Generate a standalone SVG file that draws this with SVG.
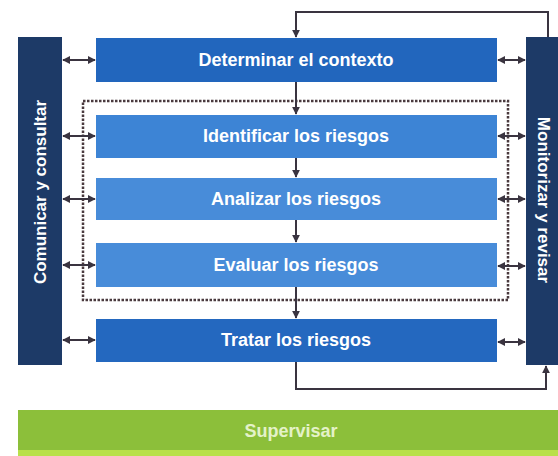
<svg xmlns="http://www.w3.org/2000/svg" width="558" height="456" viewBox="0 0 558 456">
<defs>
<style>
.lbl{font-family:"Liberation Sans",Arial,sans-serif;font-weight:bold;font-size:18px;fill:#ffffff;text-anchor:middle;dominant-baseline:central}
.vl{font-size:17px}
.side{fill:#1d3a67}
.conn{fill:none;stroke:#3a3440;stroke-width:2}
.dash{fill:none;stroke:#4a3a3e;stroke-width:2.5;stroke-dasharray:2.5 1.5}
</style>
<marker id="ah" viewBox="0 0 10 10" refX="9" refY="5" markerWidth="4" markerHeight="4" orient="auto-start-reverse">
<path d="M0,0 L10,5 L0,10 z" fill="#3a3440"/>
</marker>
</defs>
<rect width="558" height="456" fill="#ffffff"/>
<g id="comunicar">
<rect class="side" x="18" y="37" width="44" height="328"/>
<text class="lbl vl" transform="translate(40,192) rotate(-90)">Comunicar y consultar</text>
</g>
<g id="monitorizar">
<rect class="side" x="526" y="37" width="32" height="328"/>
<text class="lbl vl" transform="translate(543,200) rotate(90)">Monitorizar y revisar</text>
</g>
<rect class="dash" x="83" y="101" width="425" height="199"/>
<g id="determinar">
<rect x="96" y="38" width="401" height="44" fill="#2266bd"/>
<text class="lbl" x="296" y="60">Determinar el contexto</text>
</g>
<g id="identificar">
<rect x="96" y="115" width="401" height="43" fill="#3d84d5"/>
<text class="lbl" x="296" y="136">Identificar los riesgos</text>
</g>
<g id="analizar">
<rect x="96" y="178" width="401" height="42" fill="#488cd9"/>
<text class="lbl" x="296" y="199">Analizar los riesgos</text>
</g>
<g id="evaluar">
<rect x="96" y="243" width="401" height="44" fill="#488cd9"/>
<text class="lbl" x="296" y="265">Evaluar los riesgos</text>
</g>
<g id="tratar">
<rect x="96" y="319" width="401" height="43" fill="#2468bf"/>
<text class="lbl" x="296" y="340">Tratar los riesgos</text>
</g>
<g id="supervisar">
<rect x="18" y="410" width="540" height="42" fill="#8cbf3a"/>
<rect x="18" y="450" width="540" height="6" fill="#b9e04a"/>
<text class="lbl" x="291" y="431" style="fill:#e4f2c8">Supervisar</text>
</g>
<g id="connectors">
<path class="conn" d="M548,37 V12 H296 V37" marker-end="url(#ah)"/>
<path class="conn" d="M296,82 V114" marker-end="url(#ah)"/>
<path class="conn" d="M296,158 V177" marker-end="url(#ah)"/>
<path class="conn" d="M296,220 V242" marker-end="url(#ah)"/>
<path class="conn" d="M296,287 V318" marker-end="url(#ah)"/>
<path class="conn" d="M296,362 V389 H546 V366" marker-end="url(#ah)"/>
<path class="conn" d="M63,60 H95" marker-start="url(#ah)" marker-end="url(#ah)"/>
<path class="conn" d="M63,136 H95" marker-start="url(#ah)" marker-end="url(#ah)"/>
<path class="conn" d="M63,199 H95" marker-start="url(#ah)" marker-end="url(#ah)"/>
<path class="conn" d="M63,265 H95" marker-start="url(#ah)" marker-end="url(#ah)"/>
<path class="conn" d="M63,340 H95" marker-start="url(#ah)" marker-end="url(#ah)"/>
<path class="conn" d="M498,60 H525" marker-start="url(#ah)" marker-end="url(#ah)"/>
<path class="conn" d="M498,136 H525" marker-start="url(#ah)" marker-end="url(#ah)"/>
<path class="conn" d="M498,199 H525" marker-start="url(#ah)" marker-end="url(#ah)"/>
<path class="conn" d="M498,266 H525" marker-start="url(#ah)" marker-end="url(#ah)"/>
<path class="conn" d="M498,342 H525" marker-start="url(#ah)" marker-end="url(#ah)"/>
</g>
</svg>
